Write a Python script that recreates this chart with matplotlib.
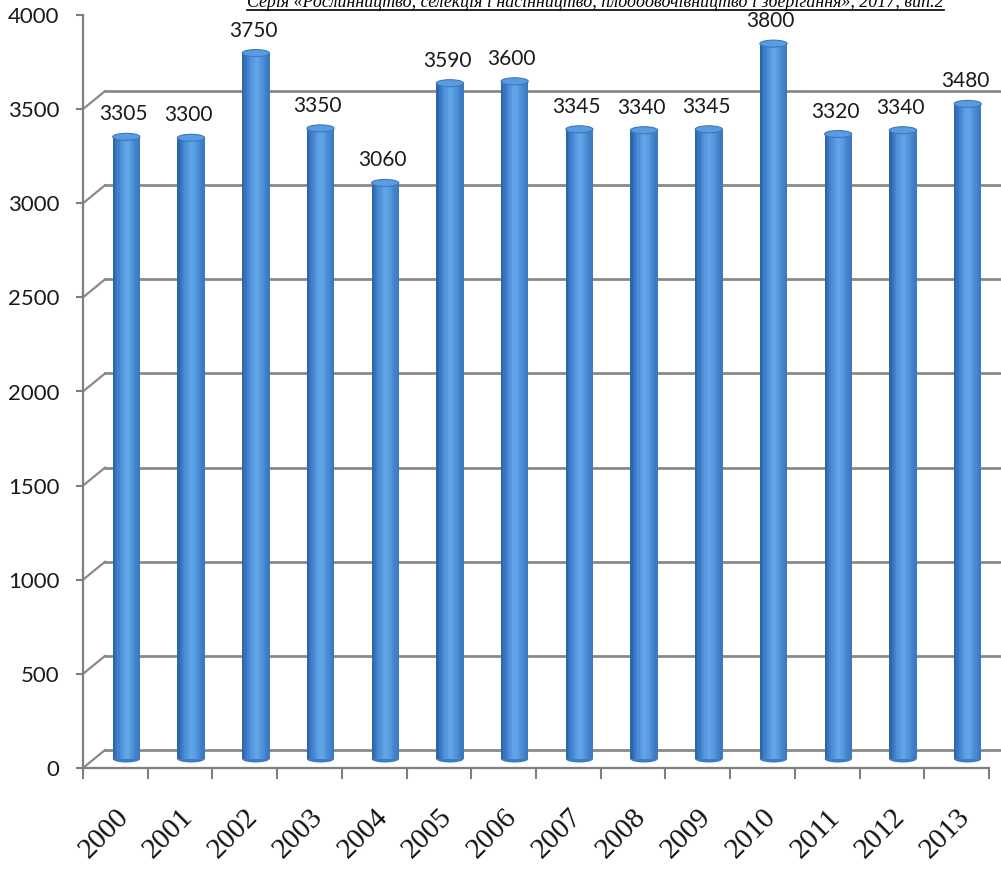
import numpy as np
import matplotlib
matplotlib.use("Agg")
import matplotlib.pyplot as plt
import matplotlib.transforms as mtransforms
from matplotlib.patches import Rectangle, Ellipse
from matplotlib.lines import Line2D

# yield by year
years = ['2000', '2001', '2002', '2003', '2004', '2005', '2006',
         '2007', '2008', '2009', '2010', '2011', '2012', '2013']
values = [3305, 3300, 3750, 3350, 3060, 3590, 3600,
          3345, 3340, 3345, 3800, 3320, 3340, 3480]
yticks = [0, 500, 1000, 1500, 2000, 2500, 3000, 3500, 4000]
header = 'Серія «Рослинництво, селекція і насінництво, плодоовочівництво і зберігання», 2017, вип.2'

W, H = 1001, 872
fig = plt.figure(figsize=(W / 100, H / 100), dpi=100)
fig.patch.set_facecolor('white')

# front plane of the 3d box
x0, x1, y0, y1 = 83, 989, 768, 15
ax = fig.add_axes([x0 / W, (H - y0) / H, (x1 - x0) / W, (y0 - y1) / H])
ax.set_xlim(0, len(years))
ax.set_ylim(0, 4000)
ax.patch.set_alpha(0)

# depth offsets (pixels) for back wall and for the bars in the middle
back = mtransforms.offset_copy(ax.transData, fig=fig, x=22, y=18, units='dots')
mid = mtransforms.offset_copy(ax.transData, fig=fig, x=11, y=9, units='dots')

grid_c = '#8a8a8a'
n = len(years)

# back wall gridlines and side wall connectors
for v in yticks:
    ax.add_line(Line2D([0, n], [v, v], transform=back, color=grid_c, lw=2, clip_on=False, zorder=1))
    xa, ya = ax.transData.transform((0, v))
    ax.add_line(Line2D([xa, xa + 22], [ya, ya + 18], transform=None, color=grid_c, lw=1.6, zorder=1))
# right floor edge
xa, ya = ax.transData.transform((n, 0))
ax.add_line(Line2D([xa, xa + 22], [ya, ya + 18], transform=None, color=grid_c, lw=1.6, zorder=1))

# cylinders
bw = 0.42
ell_h = 7 / 0.18825
shades = ['#2e66aa', '#3874bd', '#4282cc', '#4c8fd7', '#5699df', '#5fa2e5',
          '#61a5e7', '#5a9ee2', '#5194da', '#4889d1', '#4080c8', '#3b79c1']
ns = len(shades)
for i, v in enumerate(values):
    cx = i + 0.5
    left = cx - bw / 2
    for k, c in enumerate(shades):
        ax.add_patch(Rectangle((left + k * bw / ns, 0), bw / ns + 0.002, v,
                               transform=mid, facecolor=c, edgecolor='none',
                               clip_on=False, zorder=3))
    ax.add_patch(Ellipse((cx, 0), bw, ell_h, transform=mid, facecolor='#3d7cc4',
                         edgecolor='none', clip_on=False, zorder=2.9))
    ax.add_patch(Ellipse((cx, v), bw, ell_h, transform=mid, facecolor='#5b9be0',
                         edgecolor='#3b78c0', lw=0.8, clip_on=False, zorder=4))
    ax.annotate(str(v), (cx, v), xycoords=mid, xytext=(-2, 9), textcoords='offset points',
                ha='center', va='bottom', fontsize=15, family='Lato', color='#1a1a1a',
                zorder=5)

# front axes
for s in ['top', 'right']:
    ax.spines[s].set_visible(False)
for s in ['left', 'bottom']:
    ax.spines[s].set_color('#7f7f7f')
    ax.spines[s].set_linewidth(1.6)

ax.set_yticks(yticks)
ax.set_yticklabels([str(t) for t in yticks], family='Lato', fontsize=16, color='#1a1a1a')
ax.tick_params(axis='y', direction='out', length=5, width=1.5, color='#7f7f7f', pad=12)

ax.set_xticks(np.arange(n) + 0.5)
ax.set_xticklabels(years, rotation=45, ha='right', rotation_mode='anchor',
                   family='Liberation Serif', fontsize=21, color='#111111')
ax.tick_params(axis='x', which='major', length=0, pad=26)
ax.set_xticks(np.arange(n + 1), minor=True)
ax.tick_params(axis='x', which='minor', direction='out', length=8, width=1.5, color='#7f7f7f')

# journal header, cut at the top edge; size it to span 247..945 px
t = fig.text(247 / W, 1 - 7 / H, header, family='Liberation Serif', fontstyle='italic',
             fontsize=14, va='baseline', ha='left', color='black')
fig.canvas.draw()
bb = t.get_window_extent()
t.set_fontsize(14 * (945 - 247) / bb.width)
fig.canvas.draw()
bb = t.get_window_extent()
uy = (H - 10) / H
fig.add_artist(Line2D([bb.x0 / W, bb.x1 / W], [uy, uy], color='black', lw=1.2))

fig.savefig('out.png', dpi=100)
